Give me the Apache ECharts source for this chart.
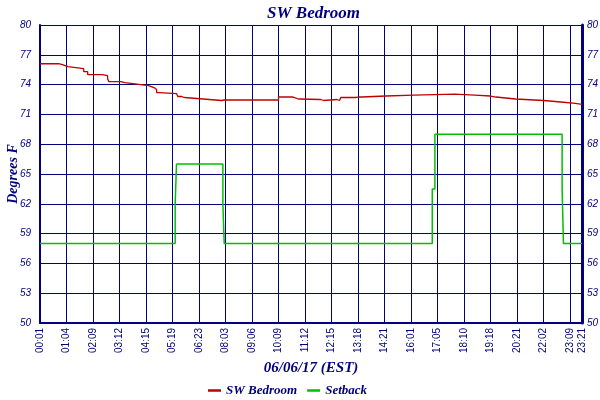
<!DOCTYPE html>
<html>
<head>
<meta charset="utf-8">
<script src="https://cdn.jsdelivr.net/npm/echarts@6/dist/echarts.min.js"></script>
<style>html,body{margin:0;padding:0;background:#fff}#c{width:600px;height:400px}</style>
</head>
<body>
<div id="c"></div>
<script>
// x positions are sample indices (irregular time sampling); tick labels are the sample times
const xTickIdx = [0,20,40,60,80,100,120,140,160,180,200,220,240,260,280,300,320,340,360,380,400,409];
const xTickLabels = ['00:01','01:04','02:09','03:12','04:15','05:19','06:23','08:03','09:06','10:09','11:12','12:15','13:18','14:21','16:01','17:05','18:10','19:18','20:21','22:02','23:09','23:21'];
const yTicks = [50,53,56,59,62,65,68,71,74,77,80];

// SW Bedroom temperature: change points (sample index, degrees F)
const tempIdx = [0,14,17,21,33,36,47,51,52,61,64,70,82,86,88,90,103,104,107,109,123,137,139,180,191,195,212,214,224,226,227,238,240,241,243,261,282,313,328,340,344,359,380,393,404,409];
const tempVal = [76.1,76.0,75.8,75.6,75.3,75.0,74.9,74.6,74.3,74.2,74.1,73.9,73.7,73.5,73.2,73.1,73.0,72.8,72.7,72.55,72.4,72.45,72.45,72.75,72.55,72.5,72.4,72.5,72.4,72.5,72.7,72.75,72.9,72.75,72.85,72.95,73.05,72.95,72.85,72.75,72.55,72.4,72.25,72.1,72.0,72.0];

// Setback: change points
const setIdx = [0,102,103,138,139,296,298,394,395,409];
const setVal = [58,62,66,62,58,63.5,69,63.5,58,58];

const navy = '#000080';
const chart = echarts.init(document.getElementById('c'));
const zip = (a,b) => a.map((v,i)=>[v,b[i]]);
const labelFont = 'Liberation Sans, Arial, sans-serif';
const titleFont = 'Liberation Serif, serif';

chart.setOption({
  backgroundColor: '#ffffff',
  animation: false,
  title: {
    text: 'SW Bedroom', left: 262, top: 0,
    textStyle: {color: navy, fontSize: 17, fontStyle: 'italic', fontWeight: 'bold', fontFamily: titleFont}
  },
  legend: {
    bottom: -2, left: 203, icon: 'rect', itemWidth: 13, itemHeight: 2.5, itemGap: 10,
    textStyle: {color: navy, fontSize: 13, fontStyle: 'italic', fontWeight: 'bold', fontFamily: titleFont},
    data: ['SW Bedroom','Setback']
  },
  grid: {left: 40, right: 18, top: 25, bottom: 77, containLabel: false, outerBoundsMode: 'none'},
  xAxis: {
    type: 'value', min: 0, max: 409, interval: 20,
    name: '06/06/17 (EST)', nameLocation: 'middle', nameGap: 34,
    nameTextStyle: {color: navy, fontSize: 15, fontStyle: 'italic', fontWeight: 'bold', fontFamily: titleFont},
    axisLine: {show: true, lineStyle: {color: navy, width: 2}},
    axisTick: {show: false},
    splitLine: {show: true, lineStyle: {color: navy, width: 1}},
    axisLabel: {
      rotate: 90, margin: 5, color: navy, fontSize: 10, fontFamily: labelFont,
      showMinLabel: true, showMaxLabel: true, hideOverlap: false,
      formatter: v => { const i = xTickIdx.indexOf(Math.round(v)); return i >= 0 ? xTickLabels[i] : ''; }
    }
  },
  yAxis: [
    {
      type: 'value', min: yTicks[0], max: yTicks[yTicks.length-1], interval: 3,
      name: 'Degrees F', nameLocation: 'middle', nameGap: 20, nameRotate: 90, nameMoveOverlap: false,
      nameTextStyle: {color: navy, fontSize: 14, fontStyle: 'italic', fontWeight: 'bold', fontFamily: titleFont},
      axisLine: {show: true, lineStyle: {color: navy, width: 2}},
      axisTick: {show: false},
      splitLine: {show: true, lineStyle: {color: navy, width: 1}},
      axisLabel: {margin: 9, color: navy, fontSize: 10, fontStyle: 'italic', fontFamily: labelFont}
    },
    {
      type: 'value', min: yTicks[0], max: yTicks[yTicks.length-1], interval: 3, position: 'right',
      axisLine: {show: true, lineStyle: {color: navy, width: 3}},
      axisTick: {show: false},
      splitLine: {show: false},
      axisLabel: {margin: 5, color: navy, fontSize: 10, fontStyle: 'italic', fontFamily: labelFont}
    }
  ],
  series: [
    {
      name: 'SW Bedroom', type: 'line', step: 'end', symbol: 'none', z: 4,
      data: zip(tempIdx, tempVal),
      lineStyle: {color: '#c00000', width: 1.3}, itemStyle: {color: '#c00000'}
    },
    {
      name: 'Setback', type: 'line', step: 'end', symbol: 'none', z: 3,
      data: zip(setIdx, setVal),
      lineStyle: {color: '#00c000', width: 1.5}, itemStyle: {color: '#00c000'}
    }
  ]
});
</script>
</body>
</html>
